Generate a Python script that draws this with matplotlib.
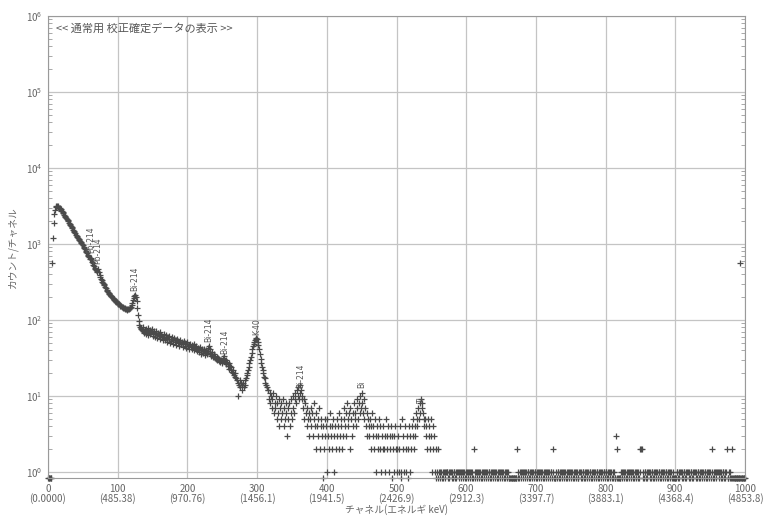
import numpy as np
import matplotlib
matplotlib.use("Agg")
import matplotlib.pyplot as plt
from matplotlib.ticker import FixedLocator, NullFormatter

plt.rcParams['font.family'] = ['Noto Sans CJK JP', 'DejaVu Sans']

# counts per channel, ch 0 - 560
counts_head = [
    0, 0, 0, 0, 0, 0, 560, 1200, 1900, 2450,
    2800, 3050, 3150, 3200, 3150, 3100, 3000, 2950, 2850, 2750,
    2700, 2600, 2520, 2440, 2350, 2280, 2190, 2130, 2040, 1980,
    1900, 1850, 1770, 1720, 1650, 1600, 1530, 1490, 1420, 1380,
    1330, 1290, 1240, 1200, 1160, 1130, 1090, 1050, 1020, 990,
    960, 920, 890, 850, 820, 790, 760, 720, 700, 670,
    640, 660, 630, 580, 560, 530, 510, 490, 470, 450,
    430, 440, 470, 430, 390, 370, 350, 340, 320, 310,
    295, 285, 270, 262, 250, 244, 235, 228, 222, 215,
    208, 204, 198, 194, 188, 185, 180, 176, 172, 170,
    166, 163, 160, 158, 155, 152, 150, 148, 146, 144,
    142, 140, 140, 138, 137, 138, 140, 142, 146, 150,
    158, 168, 182, 196, 208, 212, 200, 176, 145, 118,
    98, 86, 80, 78, 76, 75, 72, 80, 68, 74,
    77, 66, 71, 79, 64, 70, 73, 65, 69, 76,
    62, 68, 71, 60, 66, 72, 63, 58, 67, 61,
    70, 57, 64, 59, 62, 55, 60, 66, 54, 58,
    63, 52, 59, 56, 61, 50, 57, 53, 60, 49,
    55, 58, 51, 54, 47, 56, 50, 53, 46, 52,
    55, 48, 51, 44, 49, 53, 46, 50, 43, 48,
    52, 45, 47, 42, 49, 44, 47, 41, 45, 49,
    40, 44, 42, 46, 39, 43, 41, 38, 44, 40,
    36, 42, 39, 37, 41, 35, 38, 40, 36, 39,
    43, 45, 41, 37, 34, 38, 35, 33, 36, 32,
    34, 31, 33, 30, 32, 29, 31, 28, 30, 27,
    29, 32, 34, 31, 28, 30, 26, 28, 25, 27,
    23, 25, 22, 24, 21, 20, 22, 19, 18, 20,
    17, 16, 10, 15, 14, 16, 13, 15, 14, 12,
    15, 13, 14, 16, 17, 19, 20, 22, 24, 27,
    30, 33, 37, 41, 45, 49, 52, 55, 57, 58,
    56, 52, 47, 41, 36, 31, 27, 24, 22, 20,
    18, 17, 15, 14, 13, 12, 12, 9, 11, 8,
    10, 7, 9, 11, 6, 8, 7, 10, 5, 8,
    6, 9, 4, 7, 8, 5, 6, 9, 4, 7,
    5, 8, 6, 3, 7, 5, 8, 4, 6, 9,
    5, 7, 10, 6, 9, 11, 8, 12, 10, 13,
    9, 14, 11, 12, 9, 10, 7, 9, 5, 8,
    6, 4, 7, 5, 6, 3, 5, 7, 4, 6,
    3, 5, 8, 4, 2, 6, 4, 5, 3, 7,
    2, 4, 5, 3, 0, 4, 2, 5, 3, 4,
    1, 5, 3, 2, 4, 6, 3, 4, 2, 5,
    3, 1, 4, 2, 5, 3, 4, 2, 6, 3,
    5, 4, 2, 3, 5, 7, 4, 6, 3, 8,
    5, 4, 6, 2, 7, 5, 3, 6, 4, 8,
    5, 6, 4, 7, 9, 5, 8, 6, 10, 7,
    11, 8, 6, 9, 5, 7, 4, 6, 3, 5,
    4, 3, 5, 2, 4, 6, 3, 4, 2, 5,
    3, 1, 4, 2, 3, 5, 2, 4, 1, 3,
    2, 4, 2, 3, 1, 5, 3, 2, 4, 1,
    3, 2, 4, 3, 0, 2, 1, 3, 4, 2,
    1, 2, 3, 1, 2, 4, 1, 0, 5, 2,
    3, 1, 4, 2, 1, 3, 0, 2, 4, 1,
    3, 2, 4, 3, 5, 2, 4, 3, 6, 4,
    5, 7, 5, 8, 6, 9, 7, 8, 6, 5,
    4, 5, 3, 4, 2, 5, 3, 4, 2, 3,
    5, 1, 4, 2, 3, 1, 2, 0, 1, 2,
    0,
]

# ch 561 - 1000, one digit per channel
counts_tail = (
    "1011010110111010110101101011101101011010"
    "1101011010210110101101011011010110101101"
    "0110101101011010110100000000000020101101"
    "1011010110101101011010110110101011011010"
    "1101200010110101101011010110101101011010"
    "0110101101011010110101101011010110101101"
    "1010110101010030200001101011010110101101"
    "0101101012220101101011010110101101011010"
    "1101011010110101000001101011010110101101"
    "0110101101011010110101101011010120101101"
    "1011010110101200101002000000000000000000"
)

# channel 993 overflow/pulser point
extra_ch = [993]
extra_counts = [560]

xtick_ch = [0, 100, 200, 300, 400, 500, 600, 700, 800, 900, 1000]
xtick_kev = ["0.0000", "485.38", "970.76", "1456.1", "1941.5", "2426.9",
             "2912.3", "3397.7", "3883.1", "4368.4", "4853.8"]

peak_ch = [61, 72, 125, 231, 253, 300, 362, 450, 536]
peak_names = ["Pb-214", "Pb-214", "Bi-214", "Bi-214", "Bi-214", "K-40",
              "Bi-214", "Bi", "Tl"]

counts = np.array(counts_head + [int(c) for c in counts_tail], dtype=float)
chan = np.arange(len(counts))

ybot = 0.834
fig = plt.figure(figsize=(7.66, 5.19), dpi=100)
ax = fig.add_axes([48 / 766, 1 - 478 / 519, 697 / 766, 462 / 519])
ax.set_yscale('log')
ax.set_xlim(0, 1000)
ax.set_ylim(ybot, 1e6)

grid_c = '#c4c4c4'
for s in ax.spines.values():
    s.set_color('#9a9a9a')
    s.set_linewidth(0.8)
ax.grid(True, which='major', color=grid_c, linewidth=0.9)
ax.set_axisbelow(True)

mark_c = '#4a4a4a'
yplot = np.where(counts > 0, counts, ybot)
ax.plot(chan, yplot, linestyle='none', marker='+', markersize=4,
        markeredgewidth=0.9, color=mark_c, clip_on=False)
ax.plot(extra_ch, extra_counts, linestyle='none', marker='+', markersize=4,
        markeredgewidth=0.9, color=mark_c)

for ch, name in zip(peak_ch, peak_names):
    ax.text(ch, counts[ch] * 1.15, name, rotation=90, fontsize=5.5,
            color='#555555', ha='center', va='bottom', family='DejaVu Sans')

ax.set_xticks(xtick_ch)
ax.set_xticklabels([f"{c}\n({k})" for c, k in zip(xtick_ch, xtick_kev)],
                   linespacing=1.0)
ax.set_yticks([10.0 ** k for k in range(7)])
minor = [m * 10.0 ** k for k in range(6) for m in range(2, 10)]
ax.yaxis.set_minor_locator(FixedLocator(minor))
ax.yaxis.set_minor_formatter(NullFormatter())
ax.tick_params(axis='both', which='major', labelsize=7, colors='#9a9a9a',
               labelcolor='#666666', length=0, pad=4)
ax.tick_params(axis='y', which='minor', direction='in', length=3,
               colors='#9a9a9a', left=True, right=True)

ax.set_xlabel("チャネル(エネルギ keV)", fontsize=7, color='#666666', labelpad=0)
ax.set_ylabel("カウント/チャネル", fontsize=7, color='#666666', labelpad=6)
ax.text(0.012, 0.985, "<< 通常用 校正確定データの表示 >>", transform=ax.transAxes,
        fontsize=8, color='#555555', ha='left', va='top')

fig.savefig("out.png", dpi=100)
